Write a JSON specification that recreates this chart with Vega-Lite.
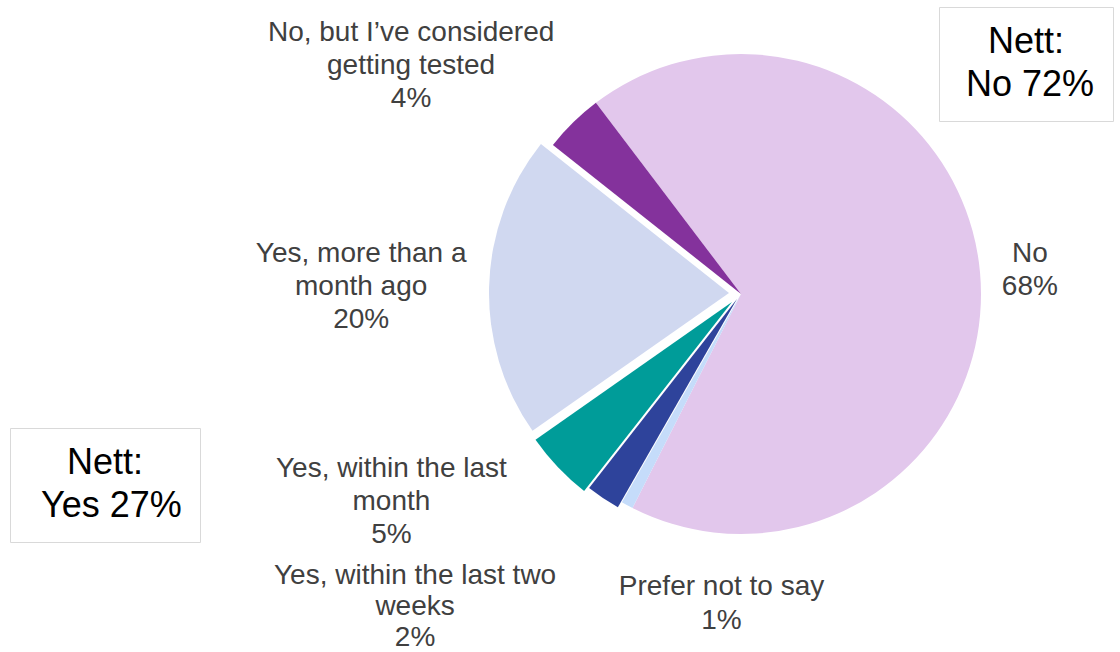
{
  "$schema": "https://vega.github.io/schema/vega-lite/v6.json",
  "background": "white",
  "width": 1120,
  "height": 552,
  "autosize": {"type": "none"},
  "padding": {"left": 0, "top": 0, "right": 0, "bottom": 100},
  "config": {
    "view": {"stroke": null},
    "font": "Liberation Sans"
  },
  "layer": [
    {
      "data": {
        "values": [
          {"cat": "No", "v": 67.8, "k": 1, "label": "No\n68%"},
          {"cat": "Prefer not to say", "v": 0.8, "k": 2, "label": "Prefer not to say\n1%"},
          {"cat": "Yes, within the last two weeks", "v": 2.3, "k": 3, "label": "Yes, within the last two\nweeks\n2%"},
          {"cat": "Yes, within the last month", "v": 4.7, "k": 4, "label": "Yes, within the last\nmonth\n5%"},
          {"cat": "Yes, more than a month ago", "v": 20.4, "k": 5, "label": "Yes, more than a\nmonth ago\n20%"},
          {"cat": "No, but I’ve considered getting tested", "v": 4.0, "k": 6, "label": "No, but I’ve considered\ngetting tested\n4%"}
        ]
      },
      "encoding": {
        "theta": {"field": "v", "type": "quantitative", "stack": true, "scale": {"range": [-0.6493, 5.6339]}},
        "order": {"field": "k", "type": "quantitative"},
        "color": {
          "field": "cat",
          "type": "nominal",
          "legend": null,
          "scale": {
            "domain": ["No", "Prefer not to say", "Yes, within the last two weeks", "Yes, within the last month", "Yes, more than a month ago", "No, but I’ve considered getting tested"],
            "range": ["#E2C7EC", "#C5DCFA", "#2E439B", "#009C99", "#D0D8F0", "#84329C"]
          }
        }
      },
      "layer": [
        {
          "mark": {"type": "arc", "radius": 240, "xOffset": 181, "yOffset": 18},
          "encoding": {
            "opacity": {"condition": {"test": "indexof(['Yes, more than a month ago','Yes, within the last month','Yes, within the last two weeks'], datum.cat) >= 0", "value": 0}, "value": 1}
          }
        },
        {
          "mark": {"type": "arc", "radius": 240, "xOffset": 169, "yOffset": 17},
          "encoding": {
            "opacity": {"condition": {"test": "datum.cat === 'Yes, more than a month ago'", "value": 1}, "value": 0}
          }
        },
        {
          "mark": {"type": "arc", "radius": 240, "xOffset": 172, "yOffset": 26},
          "encoding": {
            "opacity": {"condition": {"test": "datum.cat === 'Yes, within the last month'", "value": 1}, "value": 0}
          }
        },
        {
          "mark": {"type": "arc", "radius": 240, "xOffset": 177, "yOffset": 23},
          "encoding": {
            "opacity": {"condition": {"test": "datum.cat === 'Yes, within the last two weeks'", "value": 1}, "value": 0}
          }
        },
        {
          "mark": {"type": "text", "radius": 290, "xOffset": 181, "yOffset": 18, "dx": 0, "dy": -13.5, "fontSize": 28, "lineHeight": 33, "lineBreak": "\n", "align": "center", "baseline": "middle"},
          "encoding": {
            "color": {"value": "#404040"},
            "text": {"condition": {"test": "datum.cat === 'No'", "field": "label", "type": "nominal"}, "value": ""}
          }
        },
        {
          "mark": {"type": "text", "radius": 320, "xOffset": 181, "yOffset": 18, "dx": -106, "dy": -32, "fontSize": 28, "lineHeight": 33, "lineBreak": "\n", "align": "center", "baseline": "middle"},
          "encoding": {
            "color": {"value": "#404040"},
            "text": {"condition": {"test": "datum.cat === 'No, but I’ve considered getting tested'", "field": "label", "type": "nominal"}, "value": ""}
          }
        },
        {
          "mark": {"type": "text", "radius": 380, "xOffset": 181, "yOffset": 18, "dx": 0, "dy": -29, "fontSize": 28, "lineHeight": 33, "lineBreak": "\n", "align": "center", "baseline": "middle"},
          "encoding": {
            "color": {"value": "#404040"},
            "text": {"condition": {"test": "datum.cat === 'Yes, more than a month ago'", "field": "label", "type": "nominal"}, "value": ""}
          }
        },
        {
          "mark": {"type": "text", "radius": 300, "xOffset": 181, "yOffset": 18, "dx": -132, "dy": -32, "fontSize": 28, "lineHeight": 33, "lineBreak": "\n", "align": "center", "baseline": "middle"},
          "encoding": {
            "color": {"value": "#404040"},
            "text": {"condition": {"test": "datum.cat === 'Yes, within the last month'", "field": "label", "type": "nominal"}, "value": ""}
          }
        },
        {
          "mark": {"type": "text", "radius": 380, "xOffset": 181, "yOffset": 18, "dx": -114, "dy": -33, "fontSize": 28, "lineHeight": 31, "lineBreak": "\n", "align": "center", "baseline": "middle"},
          "encoding": {
            "color": {"value": "#404040"},
            "text": {"condition": {"test": "datum.cat === 'Yes, within the last two weeks'", "field": "label", "type": "nominal"}, "value": ""}
          }
        },
        {
          "mark": {"type": "text", "radius": 351, "xOffset": 181, "yOffset": 18, "dx": 147, "dy": -16, "fontSize": 28, "lineHeight": 34, "lineBreak": "\n", "align": "center", "baseline": "middle"},
          "encoding": {
            "color": {"value": "#404040"},
            "text": {"condition": {"test": "datum.cat === 'Prefer not to say'", "field": "label", "type": "nominal"}, "value": ""}
          }
        }
      ]
    },
    {
      "data": {"values": [{"t": "No 72%"}]},
      "mark": {"type": "point", "opacity": 0},
      "encoding": {
        "shape": {
          "field": "t",
          "type": "nominal",
          "legend": {
            "orient": "top-right",
            "offset": 7,
            "title": "Nett:",
            "titleFont": "Liberation Sans",
            "titleFontSize": 36,
            "titleFontWeight": "normal",
            "titleColor": "#000000",
            "titleAnchor": "middle",
            "titlePadding": 6,
            "titleLimit": 0,
            "labelFont": "Liberation Sans",
            "labelFontSize": 36,
            "labelColor": "#000000",
            "labelOffset": -27,
            "labelLimit": 0,
            "symbolSize": 0,
            "symbolOpacity": 0,
            "symbolStrokeWidth": 0,
            "padding": 18,
            "strokeColor": "#D9D9D9",
            "fillColor": "#FFFFFF"
          }
        }
      }
    },
    {
      "data": {"values": [{"t": "Yes 27%"}]},
      "mark": {"type": "point", "opacity": 0, "filled": true},
      "encoding": {
        "fill": {
          "field": "t",
          "type": "nominal",
          "scale": {"range": ["#FFFFFF"]},
          "legend": {
            "orient": "bottom-left",
            "offset": 10,
            "title": "Nett:",
            "titleFont": "Liberation Sans",
            "titleFontSize": 36,
            "titleFontWeight": "normal",
            "titleColor": "#000000",
            "titleAnchor": "middle",
            "titlePadding": 6,
            "titleLimit": 0,
            "labelFont": "Liberation Sans",
            "labelFontSize": 36,
            "labelColor": "#000000",
            "labelOffset": -23,
            "labelLimit": 0,
            "symbolSize": 0,
            "symbolOpacity": 0,
            "symbolStrokeWidth": 0,
            "padding": 18,
            "strokeColor": "#D9D9D9",
            "fillColor": "#FFFFFF"
          }
        }
      }
    }
  ]
}
